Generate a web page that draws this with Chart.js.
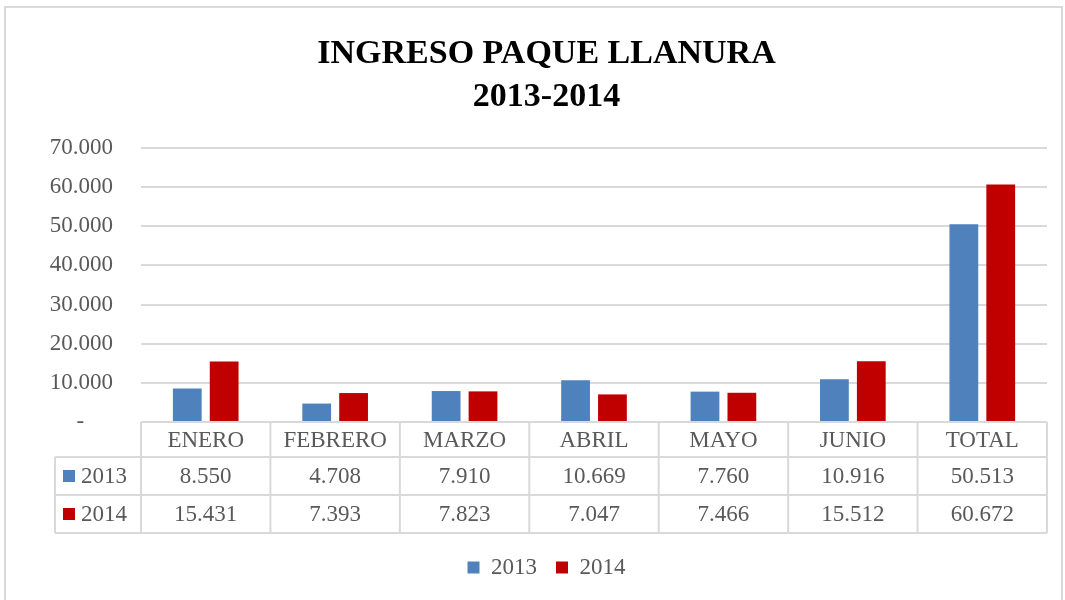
<!DOCTYPE html>
<html>
<head>
<meta charset="utf-8">
<script src="https://cdn.jsdelivr.net/npm/chart.js@4.4.1/dist/chart.umd.min.js"></script>
<style>
    html, body { margin: 0; padding: 0; background: #fff; }
    #wrap { width: 1065px; height: 600px; position: relative; }
</style>
</head>
<body>
<div id="wrap"><canvas id="myChart" width="1065" height="600"></canvas></div>
<script>
const meses = ['ENERO', 'FEBRERO', 'MARZO', 'ABRIL', 'MAYO', 'JUNIO', 'TOTAL'];
const ingreso2013 = [8550, 4708, 7910, 10669, 7760, 10916, 50513];
const ingreso2014 = [15431, 7393, 7823, 7047, 7466, 15512, 60672];
const ticksY = [0, 10000, 20000, 30000, 40000, 50000, 60000, 70000];

const titleFont = "'Liberation Serif', serif";
const fontFamily = "'Liberation Serif', serif";
const fontSize = 23;
const textColor = '#595959';
const lineColor = '#d9d9d9';

// formato con punto de miles, el cero como guion
function formatNum(v) {
    if (v === 0) return '-     ';
    return v.toString().replace(/\B(?=(\d{3})+(?!\d))/g, '.');
}

// tabla de datos debajo del eje x
const dataTable = {
    id: 'dataTable',
    afterDraw(chart) {
        const ctx = chart.ctx;
        const area = chart.chartArea;
        const n = meses.length;
        const colW = (area.right - area.left) / n;
        const tableLeft = 55;
        const rowsY = [area.bottom, area.bottom + 35, area.bottom + 73, area.bottom + 111];

        ctx.save();
        ctx.strokeStyle = lineColor;
        ctx.lineWidth = 2;
        ctx.beginPath();
        ctx.moveTo(area.left, rowsY[0]);
        ctx.lineTo(area.right, rowsY[0]);
        for (let i = 1; i < rowsY.length; i++) {
            ctx.moveTo(tableLeft, rowsY[i]);
            ctx.lineTo(area.right, rowsY[i]);
        }
        ctx.moveTo(tableLeft, rowsY[1]);
        ctx.lineTo(tableLeft, rowsY[3]);
        for (let i = 0; i <= n; i++) {
            const x = area.left + i * colW;
            ctx.moveTo(x, rowsY[0]);
            ctx.lineTo(x, rowsY[3]);
        }
        ctx.stroke();

        ctx.fillStyle = textColor;
        ctx.font = fontSize + 'px ' + fontFamily;
        ctx.textAlign = 'center';
        ctx.textBaseline = 'middle';
        const series = [ingreso2013, ingreso2014];
        meses.forEach((m, i) => {
            const cx = chart.scales.x.getPixelForValue(i);
            ctx.fillText(m, cx, (rowsY[0] + rowsY[1]) / 2 + 1);
            series.forEach((s, r) => {
                ctx.fillText(formatNum(s[i]), cx, (rowsY[r + 1] + rowsY[r + 2]) / 2 + 1);
            });
        });

        // etiquetas de serie con su color
        const names = ['2013', '2014'];
        ctx.textAlign = 'left';
        names.forEach((name, r) => {
            const cy = (rowsY[r + 1] + rowsY[r + 2]) / 2;
            ctx.fillStyle = chart.data.datasets[r].backgroundColor;
            ctx.fillRect(63, cy - 6, 12, 12);
            ctx.fillStyle = textColor;
            ctx.fillText(name, 81, cy + 1);
        });

        // marco exterior
        ctx.strokeStyle = lineColor;
        ctx.lineWidth = 2;
        ctx.strokeRect(5, 7, 1057, 600);
        ctx.restore();
    }
};

new Chart(document.getElementById('myChart'), {
    type: 'bar',
    data: {
        labels: meses,
        datasets: [
            {label: '2013', data: ingreso2013, backgroundColor: '#4f81bd'},
            {label: '2014', data: ingreso2014, backgroundColor: '#c00000'}
        ]
    },
    options: {
        responsive: false,
        animation: false,
        layout: {padding: {left: 46, right: 18, top: 0, bottom: 11}},
        datasets: {bar: {barPercentage: 0.78, categoryPercentage: 0.57}},
        scales: {
            x: {
                grid: {display: false},
                border: {display: false},
                ticks: {display: false},
                afterFit(scale) { scale.height = 115; }
            },
            y: {
                min: 0,
                max: 70000,
                afterBuildTicks(scale) { scale.ticks = ticksY.map(v => ({value: v})); },
                grid: {color: lineColor, lineWidth: 2, drawTicks: false},
                border: {display: false},
                ticks: {
                    color: textColor,
                    padding: 28,
                    font: {family: fontFamily, size: fontSize},
                    callback: v => formatNum(v)
                },
                afterFit(scale) { scale.width = 95; }
            }
        },
        plugins: {
            title: {
                display: true,
                text: ['INGRESO PAQUE LLANURA', '2013-2014'],
                color: '#000',
                font: {family: titleFont, size: 34, weight: 'bold', lineHeight: 1.25},
                padding: {top: 33, bottom: 30}
            },
            legend: {
                position: 'bottom',
                labels: {
                    color: textColor,
                    boxWidth: 12,
                    boxHeight: 12,
                    padding: 19,
                    font: {family: fontFamily, size: fontSize}
                }
            },
            tooltip: {enabled: false}
        }
    },
    plugins: [dataTable]
});
</script>
</body>
</html>
